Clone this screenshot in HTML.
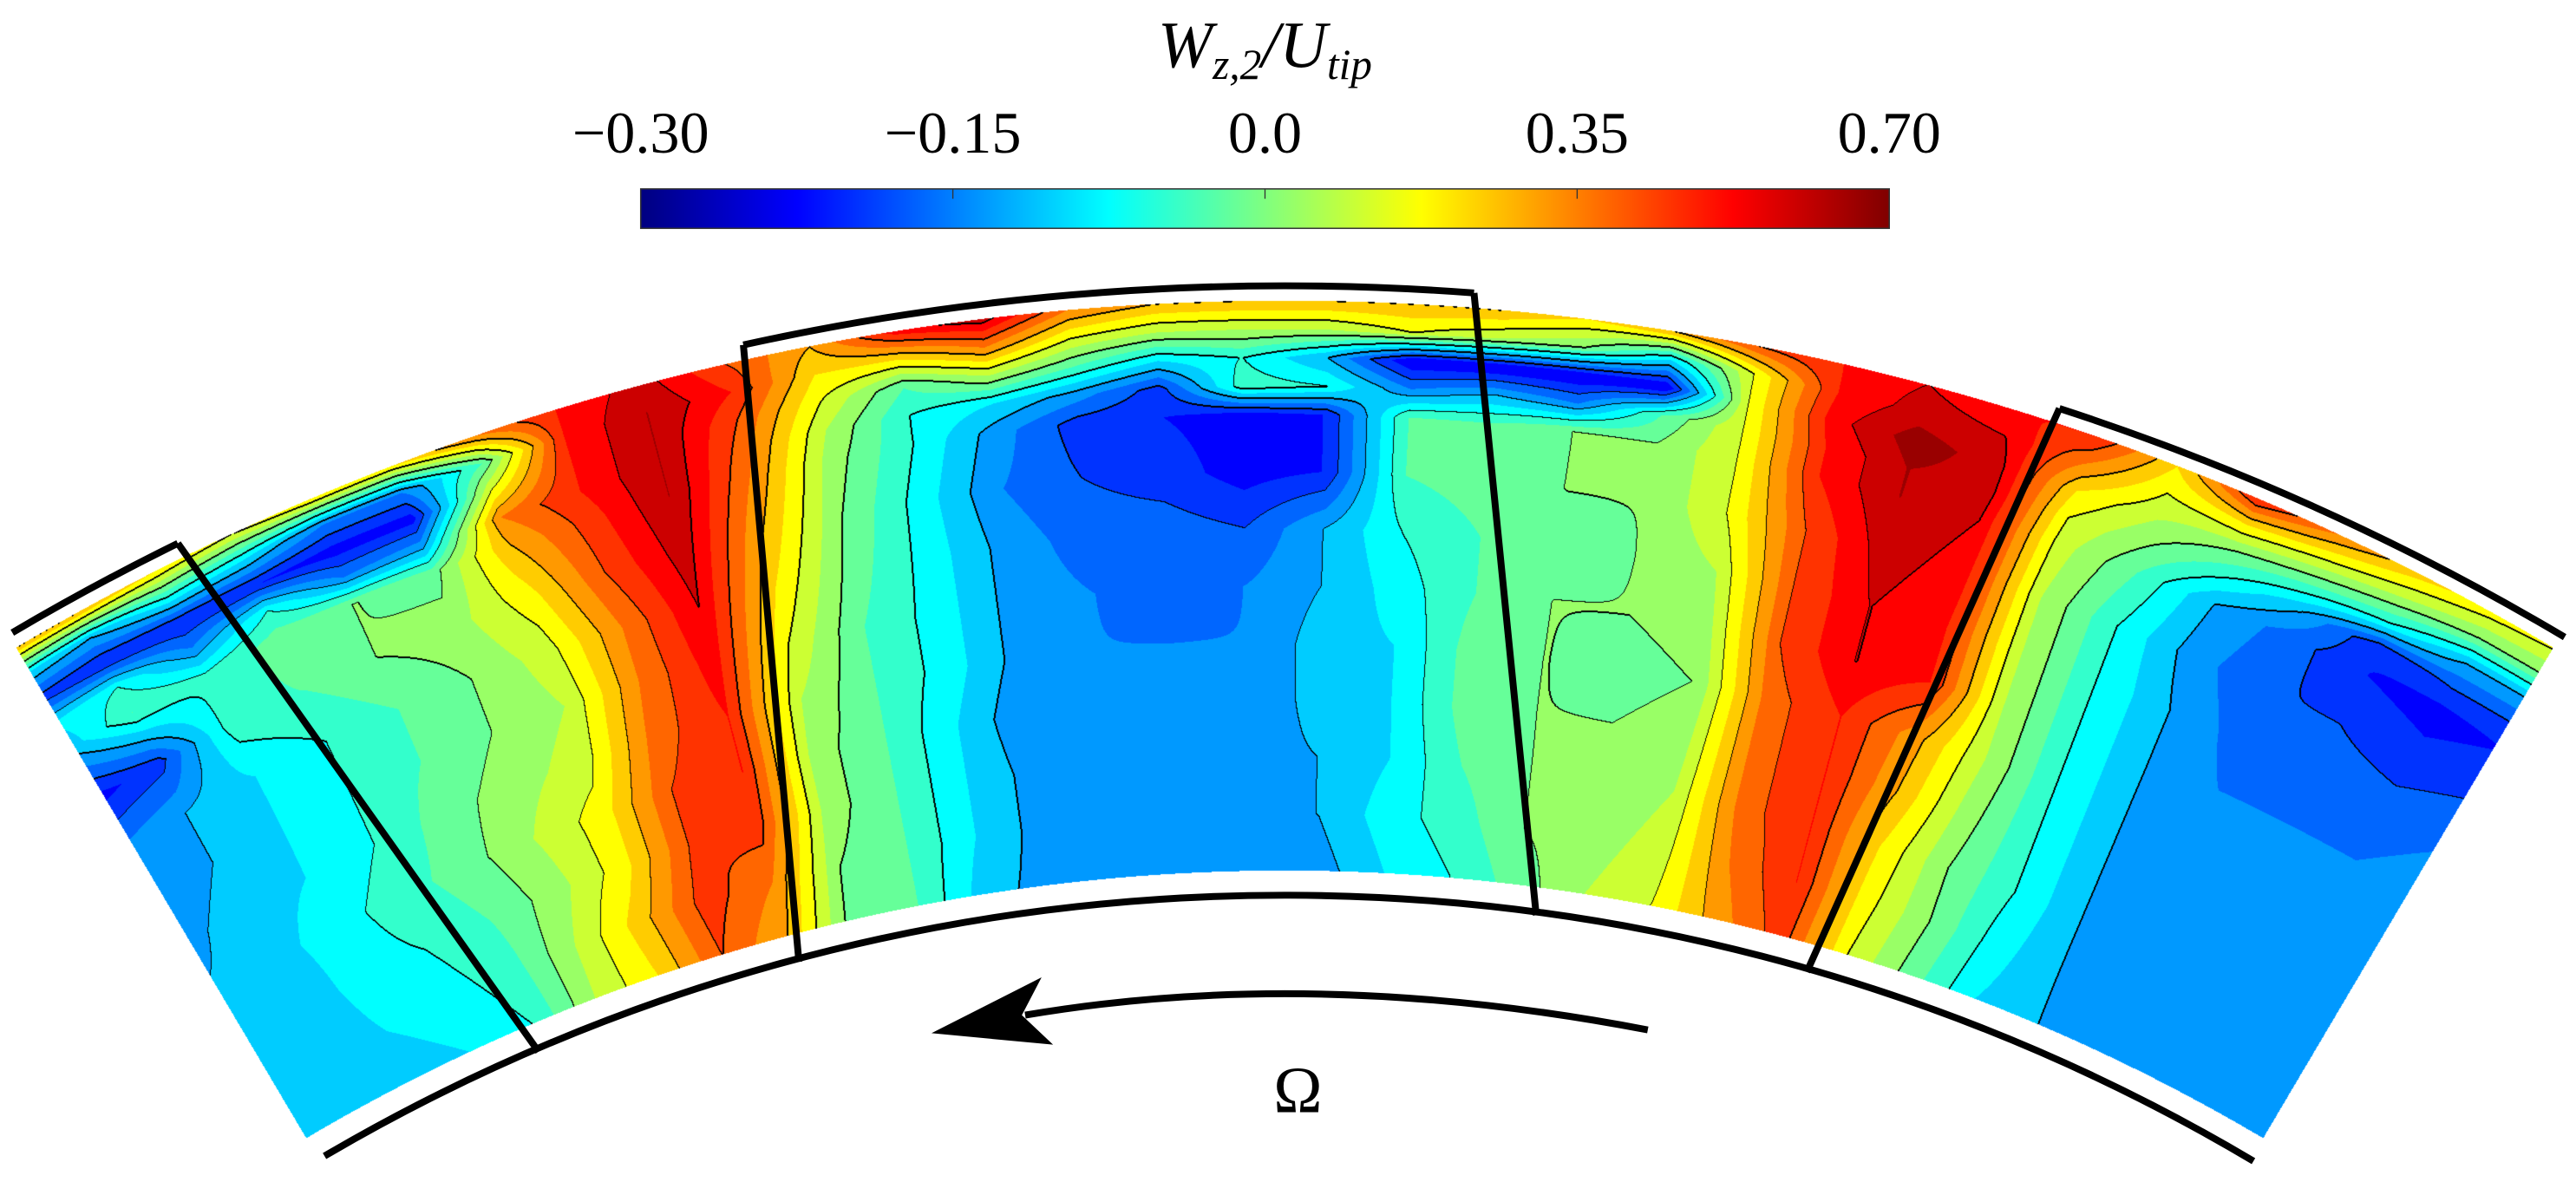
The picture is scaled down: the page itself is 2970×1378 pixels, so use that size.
<!DOCTYPE html>
<html><head><meta charset="utf-8"><style>
html,body{margin:0;padding:0;background:#fff;}
#wrap{position:relative;width:2970px;height:1378px;overflow:hidden;background:#fff;}
#field{position:absolute;left:0;top:0;}
#over{position:absolute;left:0;top:0;}
text{font-family:"Liberation Serif",serif;fill:#000;}
</style></head><body>
<div id="wrap">
<canvas id="field" width="2970" height="1378"></canvas>
<svg id="over" width="2970" height="1378" viewBox="0 0 1568 727.5">
<defs><linearGradient id="jet" x1="0" x2="1" y1="0" y2="0">
<stop offset="0" stop-color="#000080"/><stop offset="0.125" stop-color="#0000ff"/><stop offset="0.375" stop-color="#00ffff"/><stop offset="0.625" stop-color="#ffff00"/><stop offset="0.875" stop-color="#ff0000"/><stop offset="1" stop-color="#800000"/></linearGradient></defs>
<g id="colorbar">
<rect x="390" y="115" width="760" height="24" fill="url(#jet)" stroke="#333" stroke-width="0.8"/>
</g>
<text x="770" y="41" text-anchor="middle" font-size="40" font-style="italic">W<tspan font-size="26" dy="7">z,2</tspan><tspan dy="-7">/U</tspan><tspan font-size="26" dy="7">tip</tspan></text>
<g id="ticks"></g>
<g id="geom"></g>
<path d="M 1003,627 Q 800,588 624,618" fill="none" stroke="#000" stroke-width="4.2"/>
<path d="M 567,629 L 634,595 L 622,618 L 641,636 Z" fill="#000"/>
<text x="790" y="677" text-anchor="middle" font-size="40">Ω</text>
</svg>
</div>
<script>
// ---- data: contour level index (0..20 across colorbar) by blade-to-blade angle (deg) and span fraction ----
const angles = [-31,-29,-27,-25,-23,-21,-19,-17,-15,-13,-11,-9,-7,-5,-3,-1,1,3,5,7,9,11,13,15,17,19,21,23,25,27,29,31];
const spans = [1,0.95,0.9,0.85,0.8,0.7,0.6,0.5,0.4,0.3,0.2,0.1,0];
const levelByAngle = [
[14,7,3.5,7,6,2.5,5,5,5.5,6,6,6,6],
[14,6,3,8,9,3.5,6,6,6.5,6.5,6,6,6],
[13,8,3,5,8,8.5,7,7,7,7.5,7.5,7,6.5],
[12,7,3,8,9.5,9,8,8,8,8.5,8,7.5,7],
[13,5,2.5,5,10,10,9,9,9.5,9.5,9,8.5,8],
[13,5,2.5,5.5,9.5,10.5,10,10,10.5,11,10.5,11,11],
[15,9,12,15,14,12.5,11.5,11,11.5,12.5,12.5,13.5,13],
[17,17,17,17,16.5,16,15,15,15.5,16,16,16.5,16],
[18.5,19,19,19,19,18.5,18,17.5,17,17,16.5,15,14],
[16,17,16,15.5,15,14,13,12,11,10.5,10.5,10,9.5],
[14,13,12,11,10.5,10,9.5,9,9,9,9,9,9],
[17.5,13,9,8,8,7.5,7.5,7.5,7.5,7,7,7,6.5],
[18.5,15,11,7,5.5,5,5.5,5.5,5.5,5,5.5,5.5,5.5],
[15,12,9,5.5,3.5,4,4.5,5,5,5,5,5,5],
[14,11,7,3.5,3,3.5,4.5,4.5,5,5,5,5,5],
[14,11,8,8.5,2.5,2.5,4,5,5,5,5.5,5.5,5.5],
[14,11,6,8,3,3,6,6,6.5,6.5,6,6,5.5],
[14,12,2,5,9,9,8,7.5,7,7,7,7.5,7],
[14,11,2,6,9,9.5,9,9,9.5,9.5,9,8.5,8],
[13,10,2,5,10,10,9.5,10,10,10,10,10,9.5],
[14,7,2,9,10,10,10,10,9.5,10,10,10.5,11],
[16,12,12,12,12,12,11,10.5,10,10.5,11,11.5,12],
[17,17,17.5,17,17,16,16,16,15.5,15.5,15.5,15,14.5],
[18,18.5,19.5,19,19,18.5,18,18,17,17,17,17,16.5],
[17,18,18.5,18.5,18,17.5,17,17,14.5,14,13,12.5,12],
[17,15,13,12,11.5,11,11,11,11,10.5,10,10,9.5],
[13,12,11,10,9,8,8,8,8,8,8,7.5,7],
[17,13,10,8,6,5.5,6,6,6,6,6,6,6],
[15,12,9,6,4.5,4,4.5,5,5,5,5,5,5.5],
[13.5,11,8,3,3,4,4.5,5,5,5,5,5,5],
[12.5,10,6,4,2.5,3.5,4.5,5,5,5,5,5,5],
[12,10,6,4,3,4,5,5.5,6,6,6,6,6]
];
const tickLabels = ["\u22120.30","\u22120.15","0.0","0.35","0.70"];
const tickFractions = [0,0.25,0.5,0.75,1];

// ---- geometry / scales ----
const SC = 2970/1568, CX = 782, CY = 1700, R_HUB = 1170, R_TIP = 1517, TH_MAX = 30.6;
const NB = 20;
function angleScale(th){ return (th-angles[0])/(angles[1]-angles[0]); }
function spanOf(r){ return (r-R_HUB)/(R_TIP-R_HUB); }
function sample(th, s){
  let fi = Math.max(0, Math.min(angles.length-1.0001, angleScale(th)));
  const i = Math.floor(fi), ti = fi - i;
  let j = 0;
  while (j < spans.length-2 && s < spans[j+1]) j++;
  let tj = (spans[j]-s)/(spans[j]-spans[j+1]); tj = Math.max(0, Math.min(1, tj));
  const a = levelByAngle[i][j], b = levelByAngle[i+1][j], c = levelByAngle[i][j+1], d = levelByAngle[i+1][j+1];
  return (a*(1-ti)+b*ti)*(1-tj) + (c*(1-ti)+d*ti)*tj;
}
function jet(p){
  const cl = v => Math.max(0, Math.min(1, v));
  return [cl(1.5-Math.abs(4*p-3))*255, cl(1.5-Math.abs(4*p-2))*255, cl(1.5-Math.abs(4*p-1))*255];
}
// ---- render field ----
(function(){
  const cv = document.getElementById('field'), ctx = cv.getContext('2d');
  const W = cv.width, H = cv.height;
  const img = ctx.createImageData(W, H), D = img.data;
  const K = new Int8Array(W*H).fill(-1);
  const y0 = Math.floor(170*SC), y1 = Math.ceil(705*SC);
  for (let py = y0; py < y1; py++){
    const Y = (py+0.5)/SC, dy = CY - Y;
    for (let px = 0; px < W; px++){
      const X = (px+0.5)/SC, dx = X - CX;
      const r = Math.hypot(dx, dy);
      if (r < R_HUB || r > R_TIP) continue;
      const th = Math.atan2(dx, dy)*180/Math.PI;
      if (Math.abs(th) > TH_MAX) continue;
      const v = sample(th, spanOf(r)) + 0.02;
      K[py*W+px] = Math.max(0, Math.min(NB-1, Math.floor(v)));
    }
  }
  const pal = []; for (let k = 0; k < NB; k++) pal.push(jet((k+0.5)/NB));
  const isLine = (a, b) => { if (b < 0 || a === b) return false; const lo = Math.min(a,b), hi = Math.max(a,b); return (hi-lo) >= 2 || hi % 2 === 0; };
  for (let py = y0; py < y1; py++){
    for (let px = 0; px < W; px++){
      const idx = py*W+px, k = K[idx];
      if (k < 0) continue;
      let black = false;
      if (px+1 < W && isLine(k, K[idx+1])) black = true;
      else if (isLine(k, K[idx+W])) black = true;
      else if (px > 0 && isLine(k, K[idx-1]) && K[idx-1] > k) black = true;
      else if (isLine(k, K[idx-W]) && K[idx-W] > k) black = true;
      const o = idx*4;
      if (black){ D[o]=0; D[o+1]=0; D[o+2]=0; }
      else { const c = pal[k]; D[o]=c[0]; D[o+1]=c[1]; D[o+2]=c[2]; }
      D[o+3] = 255;
    }
  }
  ctx.putImageData(img, 0, 0);
})();
// ---- colorbar ticks ----
(function(){
  const g = document.getElementById('ticks'), ns = 'http://www.w3.org/2000/svg';
  const bx = 390, bw = 760;
  tickLabels.forEach((lab, i) => {
    const x = bx + bw*tickFractions[i];
    const t = document.createElementNS(ns, 'text');
    t.setAttribute('x', x); t.setAttribute('y', 93); t.setAttribute('text-anchor', 'middle'); t.setAttribute('font-size', '36');
    t.textContent = lab;
    
    
    g.appendChild(t);
    if (i > 0 && i < tickLabels.length-1){
      const l = document.createElementNS(ns, 'line');
      l.setAttribute('x1', x); l.setAttribute('x2', x); l.setAttribute('y1', 115); l.setAttribute('y2', 121);
      l.setAttribute('stroke', '#333'); l.setAttribute('stroke-width', '0.7');
      
      
      g.appendChild(l);
    }
  });
})();
// ---- blades, casing, hub ----
(function(){
  const g = document.getElementById('geom'), ns = 'http://www.w3.org/2000/svg';
  const P = (th, r) => [CX + r*Math.sin(th*Math.PI/180), CY - r*Math.cos(th*Math.PI/180)];
  const arc = (a1, a2, r, name) => {
    const p1 = P(a1, r), p2 = P(a2, r);
    const e = document.createElementNS(ns, 'path');
    e.setAttribute('d', `M ${p1[0]},${p1[1]} A ${r} ${r} 0 0 1 ${p2[0]},${p2[1]}`);
    e.setAttribute('fill', 'none'); e.setAttribute('stroke', '#000'); e.setAttribute('stroke-width', '4.2');
    
    
    g.appendChild(e);
  };
  const RC = 1526, RB = 1153;
  const blades = [[-26.2,-23.2],[-12.47,-14.86],[4.33,7.63],[18.0,16.0]];
  arc(-30.5, -26.2, RC, 'casing-arc');
  arc(-12.47, 4.33, RC, 'casing-arc');
  arc(18.0, 30.7, RC, 'casing-arc');
  arc(-30.4, 30.7, 1155, 'hub-arc');
  blades.forEach(b => {
    const p1 = P(b[0], RC), p2 = P(b[1], RB);
    const l = document.createElementNS(ns, 'line');
    l.setAttribute('x1', p1[0]); l.setAttribute('y1', p1[1]); l.setAttribute('x2', p2[0]); l.setAttribute('y2', p2[1]);
    l.setAttribute('stroke', '#000'); l.setAttribute('stroke-width', '4.2');
    
    
    g.appendChild(l);
  });
})();
</script>
</body></html>
